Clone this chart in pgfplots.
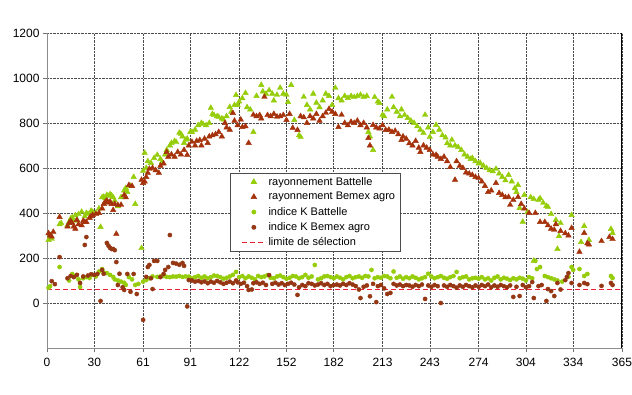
\documentclass[border=0pt]{standalone}
\usepackage{fontspec}
\setmainfont{Liberation Sans}
\usepackage{pgfplots}
\pgfplotsset{compat=1.18}
\definecolor{gBat}{RGB}{150,205,10}
\definecolor{bBem}{RGB}{165,50,10}
\definecolor{gK}{RGB}{150,205,10}
\definecolor{bK}{RGB}{150,55,20}
\definecolor{limred}{RGB}{240,30,50}
\begin{document}
\begin{tikzpicture}
\begin{axis}[
  at={(0pt,0pt)}, anchor=south west,
  scale only axis, width=575pt, height=315pt,
  xmin=0, xmax=365, ymin=-200, ymax=1200,
  xtick={0,30,61,91,122,152,182,213,243,274,304,334,365},
  ytick={0,200,400,600,800,1000,1200},
  grid=major,
  major grid style={densely dotted, black!70, line width=0.55pt},
  axis x line=bottom, axis y line=left,
  axis line style={-, black!45, line width=0.8pt},
  tick align=outside, major tick length=4pt,
  tick style={black!55, line width=0.6pt},
  ticklabel style={font=\fontsize{12}{14}\selectfont},
  xticklabel style={yshift=-3pt},
  /pgf/number format/assume math mode=true,
  /pgf/number format/1000 sep={},
  legend image code/.code={\path (-8pt,0pt); \draw[mark repeat=2,mark phase=2,#1] plot coordinates {(0pt,0pt) (12pt,0pt) (24pt,0pt)};},
  legend style={at={(0.318,0.556)}, anchor=north west, draw=black!70, line width=0.6pt,
    fill=white, font=\fontsize{11}{13}\selectfont, inner xsep=3pt, inner ysep=2pt,
    row sep=1.8pt, cells={anchor=west}},
  legend cell align=left,
]
\addplot[only marks, mark=triangle*, mark size=3.2pt, color=gBat, mark options={fill=gBat, draw=gBat}] coordinates {
(1,280)(2,300)(3,285)(8,350)(9,355)(13,345)(14,360)(15,375)(16,380)(17,365)(18,390)(19,370)(20,395)(22,405)(24,385)(25,400)(26,395)(28,410)(29,405)(31,400)(33,420)(34,338)(35,470)(36,472)(37,465)(38,480)(39,475)(40,483)(41,478)(42,470)(43,455)(45,430)(47,470)(49,500)(50,511)(51,493)(53,520)(55,560)(56,440)(60,244)(61,587)(62,667)(63,600)(64,630)(66,622)(68,644)(70,658)(72,640)(73,627)(75,660)(76,680)(78,700)(79,711)(81,720)(82,715)(84,756)(85,752)(86,740)(87,711)(88,725)(89,730)(91,760)(92,760)(94,770)(96,790)(98,800)(99,795)(101,790)(103,800)(104,867)(105,840)(106,835)(108,830)(109,827)(111,820)(112,815)(114,830)(116,871)(117,850)(119,880)(120,924)(121,880)(122,895)(124,910)(126,933)(127,870)(129,860)(131,760)(133,920)(136,969)(137,940)(139,930)(141,945)(143,930)(144,900)(146,925)(148,956)(150,930)(152,925)(153,893)(155,969)(157,813)(160,745)(161,738)(163,916)(165,880)(167,860)(169,930)(171,890)(173,870)(175,900)(177,930)(179,920)(181,880)(183,956)(185,910)(187,900)(189,920)(191,911)(193,920)(195,915)(197,920)(199,925)(201,915)(203,920)(204,760)(205,740)(207,680)(208,915)(210,895)(211,889)(213,836)(214,830)(216,860)(219,916)(220,870)(222,850)(224,830)(225,860)(227,835)(229,822)(231,810)(233,800)(235,785)(237,770)(239,755)(240,836)(242,780)(243,738)(245,760)(247,791)(249,770)(251,745)(253,735)(254,710)(256,700)(257,725)(259,700)(261,693)(263,680)(265,660)(267,650)(269,640)(270,644)(272,630)(274,620)(275,622)(277,610)(279,600)(281,590)(283,585)(285,596)(287,575)(289,560)(291,545)(293,569)(295,540)(297,510)(298,493)(299,524)(300,422)(302,361)(303,480)(305,404)(307,470)(309,462)(309,188)(312,458)(313,465)(315,445)(317,431)(318,427)(320,395)(323,369)(324,240)(325,297)(326,355)(333,391)(339,271)(341,342)(344,280)(358,329)(359,311)
};
\addlegendentry{rayonnement Battelle}
\addplot[only marks, mark=triangle*, mark size=3.2pt, color=bBem, mark options={fill=bBem, draw=bBem}] coordinates {
(1,310)(2,300)(3,295)(4,316)(8,382)(13,340)(14,355)(15,365)(16,355)(17,340)(18,330)(19,369)(20,350)(22,345)(23,365)(24,360)(25,360)(27,378)(28,385)(29,391)(31,395)(33,400)(35,420)(36,440)(37,449)(38,455)(39,445)(40,450)(41,440)(42,413)(43,440)(44,307)(45,435)(47,436)(49,480)(50,470)(52,524)(54,520)(60,547)(61,533)(62,540)(63,560)(64,578)(65,596)(67,600)(69,590)(71,578)(72,610)(74,620)(76,671)(77,650)(79,660)(81,650)(83,671)(85,660)(87,680)(89,658)(90,700)(92,716)(94,700)(95,720)(97,724)(98,700)(100,730)(102,711)(103,740)(105,745)(107,750)(109,760)(111,740)(113,800)(114,780)(116,770)(118,844)(119,810)(121,790)(123,815)(124,782)(126,785)(128,711)(131,836)(133,830)(135,835)(136,820)(138,916)(140,835)(142,830)(144,840)(146,828)(148,830)(150,835)(152,813)(154,840)(156,778)(159,769)(161,830)(163,825)(165,800)(167,830)(169,820)(171,840)(173,810)(175,830)(177,845)(179,862)(181,850)(183,840)(185,782)(187,836)(189,800)(191,790)(193,805)(195,800)(197,810)(199,790)(201,800)(203,780)(204,733)(205,700)(207,791)(209,780)(211,775)(213,790)(215,769)(217,770)(219,760)(221,765)(223,750)(225,724)(226,740)(228,730)(230,710)(232,700)(234,720)(236,690)(237,671)(239,700)(241,690)(243,680)(245,660)(247,658)(248,650)(250,640)(252,650)(254,630)(256,604)(259,547)(260,630)(262,610)(264,600)(266,580)(268,575)(270,569)(272,560)(274,555)(276,540)(278,520)(280,493)(282,500)(285,533)(287,489)(289,480)(291,470)(293,471)(294,436)(296,458)(299,471)(301,440)(303,420)(306,400)(310,400)(313,360)(316,360)(318,345)(320,330)(322,325)(323,350)(326,320)(329,310)(331,300)(333,333)(338,227)(341,311)(343,265)(344,260)(352,275)(357,293)(359,284)
};
\addlegendentry{rayonnement Bemex agro}
\addplot[only marks, mark=*, mark size=2.1pt, color=gK, mark options={fill=gK, draw=gK}] coordinates {
(1,68)(2,75)(8,160)(14,100)(16,129)(18,120)(20,105)(21,71)(23,110)(25,115)(27,111)(29,125)(31,118)(33,140)(35,151)(36,135)(38,133)(40,125)(42,116)(43,105)(45,100)(47,95)(49,90)(50,80)(52,115)(54,105)(56,80)(58,85)(61,95)(63,102)(65,110)(67,118)(70,116)(72,118)(74,120)(76,116)(78,115)(80,118)(82,117)(84,120)(86,116)(88,118)(90,117)(92,110)(94,115)(96,120)(98,112)(100,118)(102,110)(104,115)(106,122)(108,120)(110,115)(112,108)(114,112)(116,118)(118,125)(120,138)(122,115)(124,120)(126,110)(128,118)(130,112)(132,105)(134,120)(136,115)(138,118)(140,124)(142,112)(144,110)(146,118)(148,122)(150,115)(152,108)(154,112)(156,120)(158,118)(160,110)(162,115)(164,125)(166,112)(168,118)(170,169)(172,105)(174,110)(176,118)(178,120)(180,115)(182,110)(184,118)(186,112)(188,105)(190,115)(192,120)(194,110)(196,115)(198,118)(200,112)(202,120)(204,118)(206,147)(208,110)(210,115)(212,112)(214,120)(216,118)(218,110)(220,140)(222,112)(224,118)(226,108)(228,115)(230,110)(232,118)(234,112)(236,105)(238,110)(240,115)(242,130)(244,118)(246,110)(248,115)(250,120)(252,112)(254,108)(256,115)(258,120)(260,138)(262,110)(264,115)(266,118)(268,105)(270,110)(272,112)(274,108)(276,115)(278,105)(280,110)(282,100)(284,112)(286,118)(288,105)(290,112)(292,108)(294,102)(296,110)(298,105)(300,112)(302,108)(304,100)(306,115)(308,110)(310,187)(311,151)(313,160)(316,120)(318,115)(320,110)(322,105)(324,100)(327,95)(331,116)(333,160)(334,147)(338,151)(341,120)(343,129)(358,120)(359,111)
};
\addlegendentry{indice K Battelle}
\addplot[only marks, mark=*, mark size=2.1pt, color=bK, mark options={fill=bK, draw=bK}] coordinates {
(3,97)(5,84)(8,204)(13,110)(15,120)(17,115)(19,125)(21,89)(23,118)(24,258)(25,293)(26,122)(28,128)(30,125)(32,129)(34,9)(35,147)(36,130)(38,267)(39,255)(40,245)(41,240)(42,240)(43,235)(44,182)(45,80)(46,130)(48,70)(49,58)(51,129)(53,50)(55,129)(57,40)(61,-75)(63,116)(64,160)(65,169)(66,110)(67,62)(68,187)(70,187)(72,115)(74,129)(75,147)(77,160)(78,302)(80,178)(82,175)(84,170)(86,178)(87,165)(89,-15)(90,102)(92,100)(94,95)(96,98)(98,92)(100,96)(102,88)(104,95)(106,90)(108,98)(110,92)(112,85)(114,90)(116,95)(118,88)(120,100)(121,92)(123,85)(125,90)(127,75)(128,58)(130,60)(131,88)(133,92)(135,85)(137,90)(139,80)(141,124)(143,85)(145,90)(147,82)(149,88)(151,80)(153,85)(155,90)(157,82)(159,36)(160,70)(162,80)(164,75)(166,88)(168,85)(170,78)(172,82)(174,88)(176,80)(178,85)(180,75)(182,80)(184,82)(186,78)(188,85)(190,80)(192,88)(194,82)(196,75)(198,60)(199,22)(201,72)(203,78)(205,30)(207,85)(209,4)(210,75)(212,80)(214,65)(216,40)(218,45)(220,85)(222,78)(224,82)(226,75)(228,80)(230,78)(232,72)(234,80)(236,75)(238,82)(240,18)(242,78)(244,72)(246,80)(248,75)(250,0)(252,78)(254,72)(256,80)(258,75)(260,68)(262,78)(264,72)(266,80)(268,75)(270,70)(272,78)(274,72)(276,80)(278,75)(280,82)(282,70)(284,78)(286,72)(288,80)(290,75)(292,70)(294,78)(296,27)(298,72)(300,31)(302,80)(304,70)(306,75)(308,93)(309,22)(312,75)(314,80)(317,9)(318,62)(320,53)(322,31)(324,89)(326,60)(329,102)(330,116)(331,133)(333,89)(338,80)(341,89)(343,84)(352,76)(358,89)(359,80)
};
\addlegendentry{indice K Bemex agro}
\addplot[draw=limred, color=limred, dash pattern=on 5pt off 3pt, line width=1.4pt, mark=none] coordinates {(0,60) (365,60)};
\addlegendentry{limite de sélection}
\draw[black, line width=1.2pt] (rel axis cs:1,0) -- (rel axis cs:1,1);
\node[anchor=west, font=\fontsize{12.4}{14}\selectfont] at (rel axis cs:0,1) [yshift=16pt] {Rayonnement global maximum journalier [W/m2]};
\node[font=\fontsize{12.4}{14}\selectfont] at (rel axis cs:0.598,1) [yshift=16pt] {Année 2011};
\node[anchor=east, font=\fontsize{12.4}{14}\selectfont] at (rel axis cs:1,1) [yshift=16pt, xshift=7pt] {Indice de clarté global Kt'};
\node[anchor=east, font=\fontsize{11.5}{13}\selectfont] at (rel axis cs:1,0) [yshift=-35pt, xshift=7pt] {Jour de l'année};
\end{axis}
\pgfresetboundingbox
\path[use as bounding box] (-47pt,-46pt) rectangle (585pt,348pt);
\end{tikzpicture}
\end{document}
